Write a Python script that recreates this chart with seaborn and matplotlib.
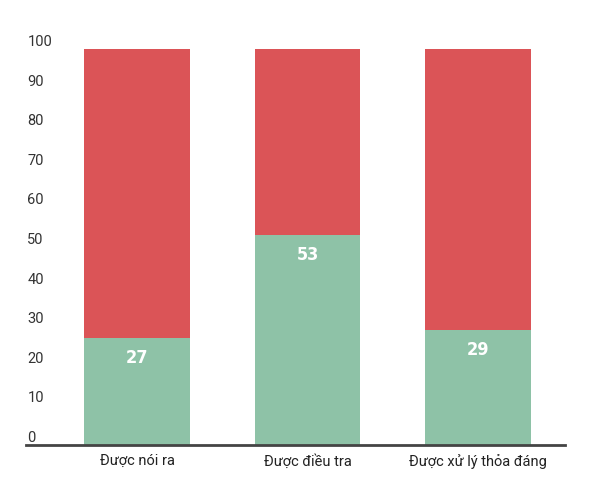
import matplotlib
matplotlib.use("Agg")
import matplotlib.pyplot as plt
import seaborn as sns
import pandas as pd

categories = ["Được nói ra", "Được điều tra", "Được xử lý thỏa đáng"]
green_values = [27, 53, 29]
total_values = [100, 100, 100]
y_ticks = [0, 10, 20, 30, 40, 50, 60, 70, 80, 90, 100]

RED = "#DB5457"
GREEN = "#8EC2A7"

sns.set_theme(style="white")
plt.rcParams['font.family'] = ['Roboto', 'DejaVu Sans']

df = pd.DataFrame({"cat": categories, "green": green_values, "total": total_values})

fig = plt.figure(figsize=(5.92, 4.92), dpi=100)
ax = fig.add_axes([26/592, 1-445/492, (565-26)/592, (445-49)/492])

sns.barplot(data=df, x="cat", y="total", color=RED, width=0.62, ax=ax,
            saturation=1, edgecolor="none", linewidth=0)
sns.barplot(data=df, x="cat", y="green", color=GREEN, width=0.62, ax=ax,
            saturation=1, edgecolor="none", linewidth=0)

ax.set_xlim(-0.651, 2.51)
ax.set_ylim(0, 100)
ax.set_xlabel("")
ax.set_ylabel("")

ax.set_yticks(y_ticks)
ax.set_yticklabels([str(v) for v in y_ticks], fontsize=10.5, color="#333333")
for lab in ax.get_yticklabels():
    lab.set_horizontalalignment("left")
    lab.set_verticalalignment("bottom")
ax.tick_params(axis="y", length=0, pad=-1)
ax.tick_params(axis="x", length=0, pad=6.5, labelsize=10.5, labelcolor="#222222")

for s in ["top", "right", "left"]:
    ax.spines[s].set_visible(False)
ax.spines["bottom"].set_color("#444444")
ax.spines["bottom"].set_linewidth(2)

for i, v in enumerate(green_values):
    ax.annotate(str(v), xy=(i, v), xytext=(0, -8), textcoords="offset points",
                ha="center", va="top", color="white", fontsize=13,
                family="DejaVu Sans", fontstretch="condensed", fontweight="bold")

fig.savefig("out.png", dpi=100)
